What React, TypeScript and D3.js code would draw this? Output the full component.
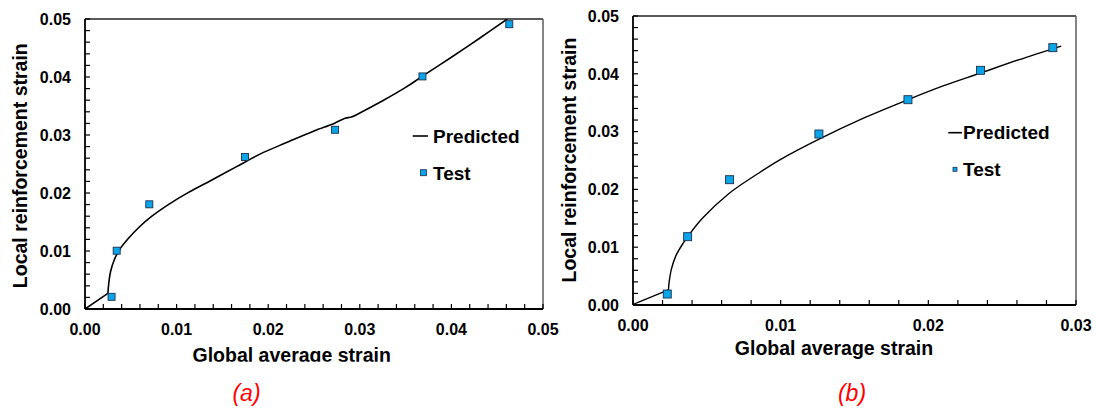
import React from 'react';
import * as d3 from 'd3';

type P = [number, number];

// Panel (a): predicted curve and test points
const predA: P[] = [
  [0, 0], [0.0025, 0.0027], [0.0026, 0.0045], [0.0028, 0.0065], [0.0032, 0.0085],
  [0.0038, 0.0103], [0.0047, 0.0121], [0.0059, 0.0141], [0.0073, 0.0160], [0.0091, 0.0180],
  [0.0113, 0.0201], [0.0138, 0.0222], [0.0165, 0.0245], [0.0191, 0.0267], [0.0220, 0.0287],
  [0.0250, 0.0307], [0.0272, 0.0320], [0.0284, 0.0329], [0.0291, 0.0331], [0.0300, 0.0338],
  [0.0325, 0.0359], [0.0350, 0.0382], [0.0368, 0.0401], [0.0400, 0.0434], [0.0430, 0.0466],
  [0.0461, 0.0500],
];
const testA: P[] = [
  [0.0029, 0.0021], [0.00346, 0.01005], [0.00702, 0.01805], [0.01747, 0.0262],
  [0.0273, 0.0309], [0.03684, 0.0401], [0.04632, 0.0491],
];

// Panel (b)
const predB: P[] = [
  [0, 0.0001], [0.0024, 0.0026], [0.00245, 0.004], [0.0026, 0.0062], [0.0029, 0.0085],
  [0.0034, 0.0107], [0.0039, 0.0125], [0.0047, 0.0150], [0.0065, 0.0193], [0.0085, 0.0228],
  [0.0100, 0.0252], [0.0126, 0.0287], [0.0155, 0.0322], [0.0186, 0.0355], [0.0210, 0.0379],
  [0.0235, 0.0401], [0.0261, 0.0424], [0.0290, 0.0448],
];
const testB: P[] = [
  [0.00232, 0.0019], [0.0037, 0.01182], [0.00654, 0.02168], [0.01259, 0.02958],
  [0.01862, 0.03552], [0.02353, 0.0406], [0.02843, 0.04452],
];

const xTicksA = [0, 0.01, 0.02, 0.03, 0.04, 0.05];
const xTicksB = [0, 0.01, 0.02, 0.03];
const yTicks = [0, 0.01, 0.02, 0.03, 0.04, 0.05];

const xLabel = 'Global average strain';
const yLabel = 'Local reinforcement strain';
const legendLine = 'Predicted';
const legendTest = 'Test';

const F = "'Liberation Sans', Arial, Helvetica, sans-serif";
const MARK = '#0AA4E8';
const MARK_STROKE = '#1B3050';

interface PanelProps {
  id: string;
  L: number; R: number; T: number; B: number;
  xMax: number; xTicks: number[];
  pred: P[]; test: P[];
  mk: number;
  leg: { lx1: number; lx2: number; ly: number; tx: number; pb: number; mx: number; my: number; ms: number; tb: number };
  xl: { x: number; y: number; clip?: number };
  yl: { x: number; y: number };
  cap: { text: string; x: number; y: number };
  lw: number;
}

function Panel(p: PanelProps) {
  const x = d3.scaleLinear().domain([0, p.xMax]).range([p.L, p.R]);
  const y = d3.scaleLinear().domain([0, 0.05]).range([p.B, p.T]);
  const lin = d3.line<P>().x(d => x(d[0])).y(d => y(d[1]));
  const smooth = d3.line<P>().x(d => x(d[0])).y(d => y(d[1])).curve(d3.curveCatmullRom.alpha(0.5));
  const fmt = d3.format('.2f');
  const minorX = d3.range(0, p.xMax + 1e-9, 0.002);
  const minorY = d3.range(0, 0.05 + 1e-9, 0.002);
  const tl = 5;
  return (
    <g>
      <defs>
        <clipPath id={`plot-${p.id}`}>
          <rect x={p.L} y={p.T} width={p.R - p.L} height={p.B - p.T} />
        </clipPath>
        {p.xl.clip !== undefined && (
          <clipPath id={`xl-${p.id}`}>
            <rect x={0} y={0} width={1097} height={p.xl.clip} />
          </clipPath>
        )}
      </defs>
      <line x1={p.L} y1={p.T} x2={p.R} y2={p.T} stroke="#222" strokeWidth={1.6} />
      <line x1={p.R} y1={p.T} x2={p.R} y2={p.B} stroke="#666" strokeWidth={1.6} />
      {minorX.map((v, i) => (
        <line key={`mx${i}`} x1={x(v)} x2={x(v)} y1={p.B} y2={p.B - tl} stroke="#000" strokeWidth={1.2} />
      ))}
      {minorY.map((v, i) => (
        <line key={`my${i}`} x1={p.L} x2={p.L + tl} y1={y(v)} y2={y(v)} stroke="#000" strokeWidth={1.2} />
      ))}
      <line x1={p.L} y1={p.B} x2={p.R} y2={p.B} stroke="#000" strokeWidth={1.8} />
      <line x1={p.L} y1={p.T} x2={p.L} y2={p.B} stroke="#000" strokeWidth={1.8} />
      {p.xTicks.map((v, i) => (
        <text key={`xt${i}`} x={x(v)} y={p.B + 26} textAnchor="middle" fontFamily={F} fontWeight="bold" fontSize={16} fill="#000">
          {fmt(v)}
        </text>
      ))}
      {yTicks.map((v, i) => (
        <text key={`yt${i}`} x={p.L - 14} y={y(v)} dy="0.36em" textAnchor="end" fontFamily={F} fontWeight="bold" fontSize={16} fill="#000">
          {fmt(v)}
        </text>
      ))}
      <g clipPath={`url(#plot-${p.id})`}>
        <path d={lin(p.pred.slice(0, 2)) || ''} fill="none" stroke="#000" strokeWidth={p.lw} />
        <path d={smooth(p.pred.slice(1)) || ''} fill="none" stroke="#000" strokeWidth={p.lw} strokeLinejoin="round" />
      </g>
      {p.test.map((d, i) => (
        <rect key={`tp${i}`} x={x(d[0]) - p.mk / 2} y={y(d[1]) - p.mk / 2} width={p.mk} height={p.mk}
          fill={MARK} stroke={MARK_STROKE} strokeWidth={0.9} />
      ))}
      <line x1={p.leg.lx1} x2={p.leg.lx2} y1={p.leg.ly} y2={p.leg.ly} stroke="#000" strokeWidth={1.6} />
      <text x={p.leg.tx} y={p.leg.pb} fontFamily={F} fontWeight="bold" fontSize={19} fill="#000">{legendLine}</text>
      <rect x={p.leg.mx - p.leg.ms / 2} y={p.leg.my - p.leg.ms / 2} width={p.leg.ms} height={p.leg.ms}
        fill={MARK} stroke={MARK_STROKE} strokeWidth={0.8} />
      <text x={p.leg.tx} y={p.leg.tb} fontFamily={F} fontWeight="bold" fontSize={19} fill="#000">{legendTest}</text>
      <g clipPath={p.xl.clip !== undefined ? `url(#xl-${p.id})` : undefined}>
        <text x={p.xl.x} y={p.xl.y} textAnchor="middle" fontFamily={F} fontWeight="bold" fontSize={19.5} fill="#000">{xLabel}</text>
      </g>
      <text transform={`translate(${p.yl.x},${p.yl.y}) rotate(-90)`} textAnchor="middle" fontFamily={F} fontWeight="bold" fontSize={19.5} fill="#000">{yLabel}</text>
      <text x={p.cap.x} y={p.cap.y} textAnchor="middle" fontFamily={F} fontStyle="italic" fontSize={23} fill="#FF0000">{p.cap.text}</text>
    </g>
  );
}

export default function App() {
  return (
    <svg width={1097} height={408} viewBox="0 0 1097 408"
      style={{ position: 'absolute', left: 0, top: 0, background: '#fff' }}>
      <rect x={0} y={0} width={1097} height={408} fill="#fff" />
      <Panel id="a" L={85} R={543} T={19} B={309} xMax={0.05} xTicks={xTicksA}
        pred={predA} test={testA} mk={7} lw={1.6}
        leg={{ lx1: 412.7, lx2: 428, ly: 136, tx: 433, pb: 143, mx: 423.5, my: 172.7, ms: 6, tb: 180 }}
        xl={{ x: 291.7, y: 362, clip: 361.7 }}
        yl={{ x: 27, y: 165.7 }}
        cap={{ text: '(a)', x: 246.5, y: 401 }} />
      <Panel id="b" L={633} R={1076} T={16} B={305} xMax={0.03} xTicks={xTicksB}
        pred={predB} test={testB} mk={8} lw={1.4}
        leg={{ lx1: 948.3, lx2: 962, ly: 132.7, tx: 963, pb: 138.5, mx: 955, my: 169.3, ms: 4, tb: 176 }}
        xl={{ x: 834, y: 355 }}
        yl={{ x: 575.5, y: 160 }}
        cap={{ text: '(b)', x: 852, y: 401 }} />
    </svg>
  );
}
